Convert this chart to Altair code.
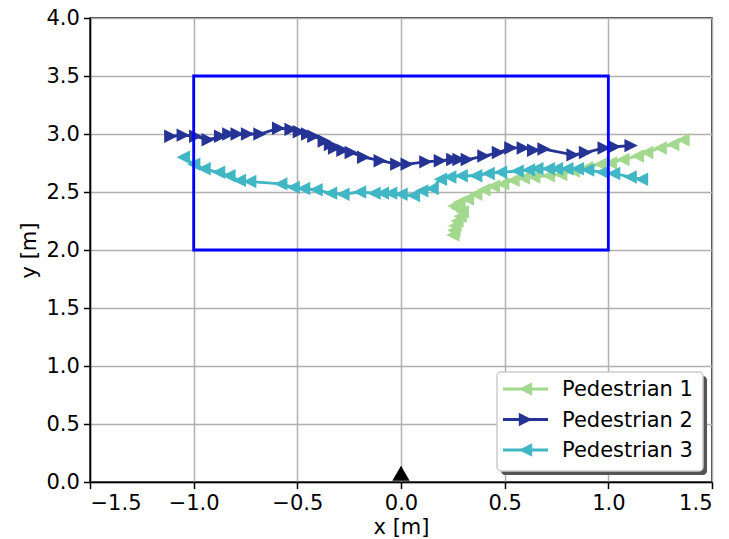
import altair as alt
import pandas as pd

# ---------------- data ----------------
names = ["Pedestrian 1", "Pedestrian 2", "Pedestrian 3"]
colors = ["#a2d98e", "#253494", "#41b6c4"]

p1_x = [1.36, 1.31, 1.25, 1.185, 1.14, 1.07, 1.01, 0.96, 0.895, 0.83, 0.77, 0.71,
        0.64, 0.59, 0.54, 0.49, 0.445, 0.40, 0.36, 0.32, 0.28, 0.255, 0.27, 0.295,
        0.285, 0.27, 0.26, 0.255, 0.25]
p1_y = [2.95, 2.91, 2.88, 2.84, 2.81, 2.78, 2.75, 2.74, 2.71, 2.68, 2.65, 2.64,
        2.63, 2.62, 2.60, 2.57, 2.55, 2.52, 2.48, 2.44, 2.41, 2.38, 2.36, 2.33,
        2.29, 2.25, 2.21, 2.17, 2.13]

p2_x = [-1.11, -1.05, -0.99, -0.93, -0.87, -0.83, -0.79, -0.74, -0.68, -0.59, -0.53,
        -0.49, -0.45, -0.42, -0.37, -0.34, -0.32, -0.28, -0.24, -0.18, -0.10, -0.02,
        0.03, 0.12, 0.19, 0.25, 0.28, 0.32, 0.40, 0.47, 0.53, 0.59, 0.64, 0.69, 0.83,
        0.89, 0.98, 1.03, 1.11]
p2_y = [2.98, 2.99, 2.98, 2.95, 2.98, 3.00, 3.00, 3.00, 3.00, 3.05, 3.04,
        3.02, 3.00, 2.98, 2.94, 2.91, 2.88, 2.86, 2.84, 2.80, 2.77, 2.74,
        2.74, 2.76, 2.77, 2.78, 2.78, 2.78, 2.81, 2.84, 2.88, 2.88, 2.86, 2.87, 2.82,
        2.84, 2.88, 2.89, 2.90]

p3_x = [1.16, 1.105, 1.025, 0.97, 0.90, 0.85, 0.80, 0.75, 0.71, 0.655, 0.615, 0.56,
        0.48, 0.42, 0.36, 0.29, 0.235, 0.19, 0.15, 0.10, 0.06, 0.0, -0.05, -0.09,
        -0.13, -0.20, -0.28, -0.34, -0.41, -0.47, -0.52, -0.58, -0.73, -0.78, -0.83,
        -0.88, -0.95, -1.0, -1.05]
p3_y = [2.61, 2.63, 2.66, 2.67, 2.69, 2.70, 2.70, 2.70, 2.70, 2.70, 2.69, 2.68,
        2.67, 2.66, 2.64, 2.64, 2.63, 2.61, 2.53, 2.51, 2.47, 2.48, 2.49, 2.49,
        2.49, 2.50, 2.48, 2.49, 2.52, 2.53, 2.54, 2.57, 2.59, 2.60, 2.64,
        2.67, 2.70, 2.74, 2.80]

box_x = [-1.0, 1.0]
box_y = [2.0, 3.5]

robot_x = [0.0]
robot_y = [0.075]

x_ticks = [-1.5, -1.0, -0.5, 0.0, 0.5, 1.0, 1.5]
y_ticks = [0.0, 0.5, 1.0, 1.5, 2.0, 2.5, 3.0, 3.5, 4.0]

# ---------------- styling ----------------
FONT = "DejaVu Sans"
FS = 21
LEFT_TRI = "M1,-1L-1,0L1,1Z"
RIGHT_TRI = "M-1,-1L1,0L-1,1Z"
shapes = [LEFT_TRI, RIGHT_TRI, LEFT_TRI]
MSIZE = 180
W, H = 622, 464

minus_expr = "replace(format(datum.value, '.1f'), '-', '\u2212')"

x_enc = alt.X("x:Q", scale=alt.Scale(domain=[-1.5, 1.5], nice=False, zero=False),
              axis=alt.Axis(values=x_ticks, title="x [m]", labelExpr=minus_expr))
y_enc = alt.Y("y:Q", scale=alt.Scale(domain=[0, 4], nice=False, zero=False),
              axis=alt.Axis(values=y_ticks, title="y [m]", labelExpr=minus_expr))

series = [(p1_x, p1_y), (p2_x, p2_y), (p3_x, p3_y)]
layers = []
for i, (xs, ys) in enumerate(series):
    df = pd.DataFrame({"x": xs, "y": ys, "order": list(range(len(xs)))})
    base = alt.Chart(df)
    layers.append(base.mark_line(strokeWidth=2.8, color=colors[i]).encode(
        x=x_enc, y=y_enc, order="order:Q"))
    layers.append(base.mark_point(filled=True, size=MSIZE, opacity=1,
                                  color=colors[i], shape=shapes[i]).encode(x=x_enc, y=y_enc))

box_df = pd.DataFrame({"x": [box_x[0]], "x2": [box_x[1]], "y": [box_y[0]], "y2": [box_y[1]]})
layers.append(alt.Chart(box_df).mark_rect(filled=False, stroke="#0000ff", strokeWidth=2.8).encode(
    x=x_enc, x2="x2:Q", y=y_enc, y2="y2:Q"))

robot_df = pd.DataFrame({"x": robot_x, "y": robot_y})
layers.append(alt.Chart(robot_df).mark_point(shape="triangle-up", filled=True, size=300,
                                             color="black", opacity=1).encode(x=x_enc, y=y_enc))

# ---------------- legend (drawn by hand, matplotlib style) ----------------
one = pd.DataFrame({"k": [0]})
lx0, lx1, ly0, ly1 = 407, 613, 354, 453
layers.append(alt.Chart(one).mark_rect(color="#555555", cornerRadius=4).encode(
    x=alt.value(lx0 + 4), x2=alt.value(lx1 + 4), y=alt.value(ly0 + 4), y2=alt.value(ly1 + 4)))
layers.append(alt.Chart(one).mark_rect(fill="white", stroke="#cccccc", strokeWidth=1.5,
                                       cornerRadius=4).encode(
    x=alt.value(lx0), x2=alt.value(lx1), y=alt.value(ly0), y2=alt.value(ly1)))
rows = [371, 401.5, 432]
for i, n in enumerate(names):
    d = pd.DataFrame({"name": [n]})
    layers.append(alt.Chart(d).mark_rule(strokeWidth=2.8, color=colors[i]).encode(
        x=alt.value(413), x2=alt.value(458), y=alt.value(rows[i])))
    layers.append(alt.Chart(d).mark_point(filled=True, size=MSIZE, opacity=1, color=colors[i],
                                          shape=shapes[i]).encode(
        x=alt.value(435.5), y=alt.value(rows[i])))
    layers.append(alt.Chart(d).mark_text(align="left", baseline="middle", font=FONT,
                                         fontSize=FS, color="black").encode(
        x=alt.value(472), y=alt.value(rows[i] + 1), text="name:N"))

chart = alt.layer(*layers).properties(
    width=W, height=H,
    autosize=alt.AutoSizeParams(type="none"),
    padding={"left": 82, "top": 10, "right": 9, "bottom": 57},
).configure_view(
    stroke="black", strokeWidth=1.5
).configure_axis(
    labelFont=FONT, labelFontSize=FS, labelColor="black",
    titleFont=FONT, titleFontSize=FS, titleFontWeight="normal", titleColor="black",
    domainColor="black", domainWidth=1.5,
    tickColor="black", tickWidth=1.5, tickSize=6.6,
    labelPadding=4,
    gridColor="#b0b0b0", gridWidth=1.5,
).configure_axisX(
    titlePadding=3
).configure_axisY(
    titlePadding=7
)

chart.save("out.html", embed_options={"renderer": "svg", "actions": False})
